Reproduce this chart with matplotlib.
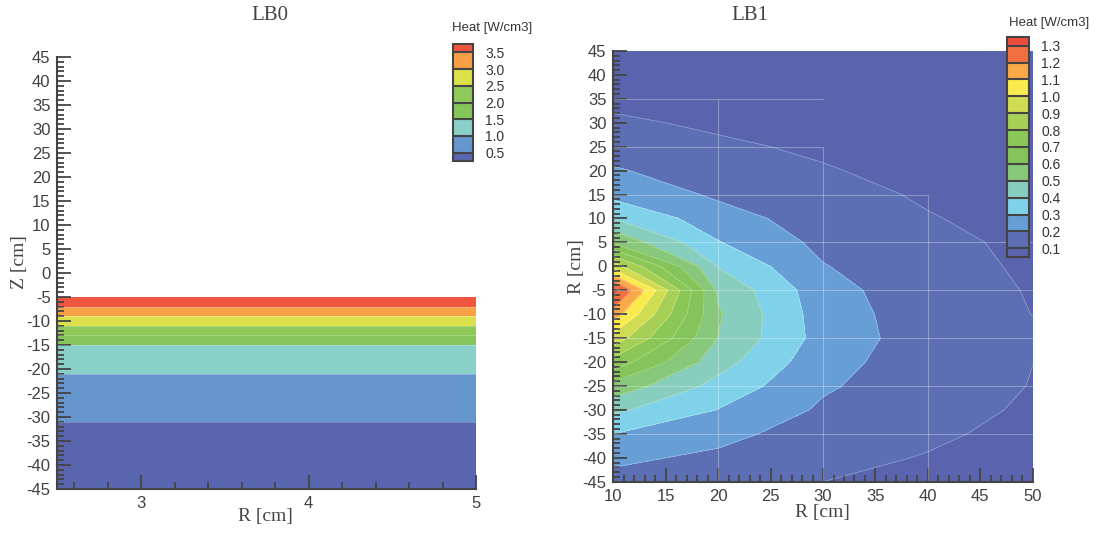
import numpy as np
import matplotlib
matplotlib.use("Agg")
import matplotlib.pyplot as plt
from matplotlib.colors import ListedColormap, BoundaryNorm
from matplotlib.ticker import MultipleLocator

# 字体设置：刻度用无衬线，标题/轴名用衬线
plt.rcParams["font.family"] = ["Liberation Sans", "DejaVu Sans"]
plt.rcParams["axes.unicode_minus"] = False

SERIF = ["Liberation Serif", "DejaVu Serif"]
DARK = "#444444"

# ---------------- LB0 ----------------
lb0_r = [2.5, 5.0]
lb0_z = [-5, -15, -25, -35, -45]
lb0_heat = [4.0, 1.49, 0.667, 0.389, 0.25]   # 只随 Z 变化
lb0_levels = [0.5, 1.0, 1.5, 2.0, 2.5, 3.0, 3.5]
lb0_colors = ["#5A65AF", "#6696CE", "#88D0C8", "#86C55A",
              "#8EC95A", "#DCE04A", "#F8A048", "#F0553F"]

# ---------------- LB1 ----------------
lb1_r = [10, 20, 30, 40, 50]
lb1_z = [45, 40, 35, 30, 25, 20, 15, 10, 5, 0,
         -5, -10, -15, -20, -25, -30, -35, -40, -45]
lb1_heat = [
    [0.050, 0.040, 0.030, 0.028, 0.025],   # 45
    [0.065, 0.055, 0.045, 0.040, 0.030],   # 40
    [0.085, 0.070, 0.060, 0.050, 0.035],   # 35
    [0.110, 0.090, 0.075, 0.060, 0.040],   # 30
    [0.155, 0.110, 0.090, 0.070, 0.050],   # 25
    [0.210, 0.145, 0.105, 0.080, 0.057],   # 20
    [0.270, 0.185, 0.130, 0.090, 0.065],   # 15
    [0.400, 0.240, 0.155, 0.105, 0.072],   # 10
    [0.585, 0.305, 0.175, 0.125, 0.079],   # 5
    [0.950, 0.395, 0.205, 0.130, 0.088],   # 0
    [1.350, 0.483, 0.239, 0.136, 0.095],   # -5
    [1.150, 0.510, 0.250, 0.148, 0.099],   # -10
    [0.960, 0.498, 0.260, 0.150, 0.110],   # -15
    [0.760, 0.440, 0.235, 0.148, 0.1005],  # -20
    [0.566, 0.366, 0.2125, 0.143, 0.097],  # -25
    [0.420, 0.297, 0.185, 0.132, 0.088],   # -30
    [0.300, 0.230, 0.151, 0.115, 0.075],   # -35
    [0.220, 0.180, 0.125, 0.095, 0.068],   # -40
    [0.170, 0.140, 0.100, 0.080, 0.060],   # -45
]
lb1_levels = [0.1, 0.2, 0.3, 0.4, 0.5, 0.6, 0.7, 0.8, 0.9, 1.0, 1.1, 1.2, 1.3]
lb1_colors = ["#5A64AE", "#5C6FB4", "#679ED6", "#80D2EA", "#88CEBE",
              "#88C87A", "#84C45A", "#8AC756", "#A6CF55", "#D0DC52",
              "#F9EA4E", "#F9AA48", "#F2703F", "#EE4C3C"]

# 网格线（网格分块边界）
mesh_r = [20, 30, 40]
mesh_r_top = [35, 25, 15]
mesh_z = [35, 25, 15, 5, -5, -15, -25, -35]
mesh_z_end = [30, 30, 40, 50, 50, 50, 50, 50]


def draw_panel(fig, ax, cax, r, z, heat, levels, colors):
    cmap = ListedColormap(colors[1:-1])
    cmap.set_under(colors[0])
    cmap.set_over(colors[-1])
    norm = BoundaryNorm(levels, cmap.N)
    R, Z = np.meshgrid(r, z)
    cf = ax.contourf(R, Z, heat, levels=levels, cmap=cmap, norm=norm, extend="both")
    ax.contour(R, Z, heat, levels=levels, colors="white", linewidths=0.5, alpha=0.35)

    # 坐标轴样式
    for s in ["top", "right"]:
        ax.spines[s].set_visible(False)
    for s in ["left", "bottom"]:
        ax.spines[s].set_color(DARK)
        ax.spines[s].set_linewidth(1.5)
    ax.tick_params(which="both", direction="in", color=DARK, width=1.3,
                   labelsize=12, labelcolor="#404040")
    ax.tick_params(which="major", length=10, pad=5)
    ax.tick_params(which="minor", length=5)
    ax.set_ylim(-45, 45)
    ax.yaxis.set_major_locator(MultipleLocator(5))
    ax.yaxis.set_minor_locator(MultipleLocator(1))

    # 图例色条
    n_inner = len(levels) - 1
    cb = fig.colorbar(cf, cax=cax, extendrect=True, extendfrac=0.5 / n_inner,
                      drawedges=True, ticks=levels)
    cb.outline.set_edgecolor(DARK)
    cb.outline.set_linewidth(1.5)
    cb.dividers.set_color(DARK)
    cb.dividers.set_linewidth(1.5)
    cax.tick_params(length=0, labelsize=10, pad=9, labelcolor="#333333")
    cax.yaxis.set_major_formatter("{x:.1f}")
    return cf


fig = plt.figure(figsize=(10.97, 5.35), dpi=100)

# 左图 LB0
ax0 = fig.add_axes([0.0524, 0.0860, 0.3815, 0.8075])
cax0 = fig.add_axes([0.4127, 0.699, 0.0182, 0.2187])
lb0_grid = np.column_stack([lb0_heat, lb0_heat])
draw_panel(fig, ax0, cax0, lb0_r, lb0_z, lb0_grid, lb0_levels, lb0_colors)
ax0.set_xlim(2.5, 5)
ax0.xaxis.set_major_locator(MultipleLocator(1))
ax0.xaxis.set_minor_locator(MultipleLocator(0.2))
ax0.set_xlabel("R [cm]", family=SERIF, fontsize=14, color=DARK)
ax0.xaxis.set_label_coords(0.498, -0.044)
ax0.set_ylabel("Z [cm]", family=SERIF, fontsize=14, color=DARK)
ax0.yaxis.set_label_coords(-0.07, 0.525)

# 右图 LB1
ax1 = fig.add_axes([0.5591, 0.0996, 0.3823, 0.8051])
cax1 = fig.add_axes([0.9182, 0.5202, 0.0197, 0.4101])
draw_panel(fig, ax1, cax1, lb1_r, lb1_z, lb1_heat, lb1_levels, lb1_colors)
ax1.vlines(mesh_r, -45, mesh_r_top, colors="white", linewidth=0.8, alpha=0.3)
ax1.hlines(mesh_z, 10, mesh_z_end, colors="white", linewidth=0.8, alpha=0.3)
ax1.set_xlim(10, 50)
ax1.xaxis.set_major_locator(MultipleLocator(5))
ax1.xaxis.set_minor_locator(MultipleLocator(1))
ax1.set_xlabel("R [cm]", family=SERIF, fontsize=14, color=DARK)
ax1.xaxis.set_label_coords(0.498, -0.052)
ax1.set_ylabel("R [cm]", family=SERIF, fontsize=14, color=DARK)
ax1.yaxis.set_label_coords(-0.067, 0.5)

# 标题与图例标题
fig.text(270 / 1097, 1 - 15 / 535, "LB0", family=SERIF, fontsize=15,
         color=DARK, ha="center", va="center")
fig.text(750 / 1097, 1 - 15 / 535, "LB1", family=SERIF, fontsize=15,
         color=DARK, ha="center", va="center")
fig.text(492 / 1097, 1 - 28 / 535, "Heat [W/cm3]", fontsize=9.5,
         color="#333333", ha="center", va="center")
fig.text(1049 / 1097, 1 - 23 / 535, "Heat [W/cm3]", fontsize=9.5,
         color="#333333", ha="center", va="center")

fig.savefig("out.png", dpi=100)
